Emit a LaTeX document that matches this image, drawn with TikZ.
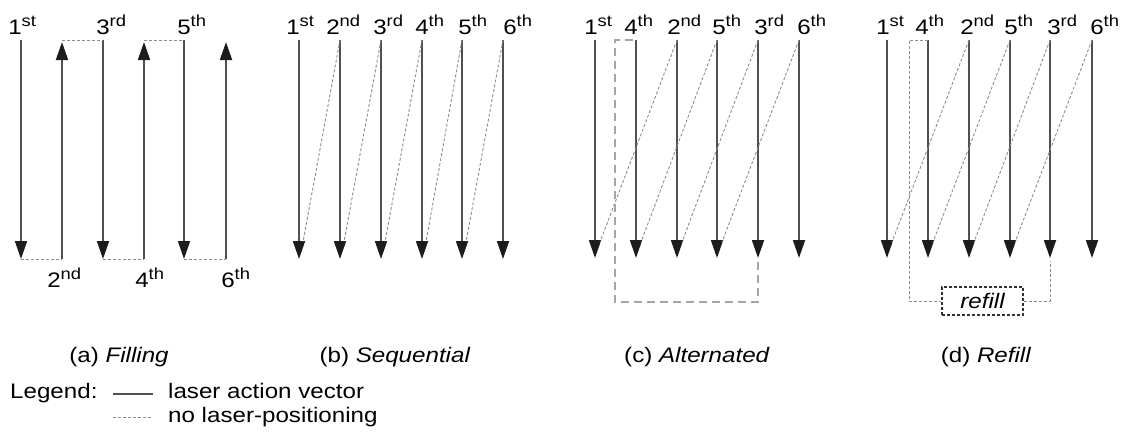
\documentclass[tikz,border=0pt]{standalone}
\usepackage{fontspec}
\setmainfont{Liberation Sans}[FakeStretch=1.15]
\usetikzlibrary{arrows.meta}
\definecolor{vecgray}{RGB}{80,80,80}
\definecolor{tipblack}{RGB}{28,28,28}
\definecolor{dashgray}{RGB}{140,140,140}
\definecolor{longgray}{RGB}{165,165,165}
\definecolor{boxgray}{RGB}{50,50,50}
\newcommand{\ordl}[2]{#1\rlap{\raisebox{8pt}{\fontsize{16}{16}\selectfont #2}}}
\tikzset{
  vec/.style={draw=vecgray, line width=1.8pt, -{Triangle[length=18pt,width=12pt,color=tipblack]}},
  nolaser/.style={draw=dashgray, line width=0.9pt, dash pattern=on 3pt off 2pt},
  longdash/.style={draw=longgray, line width=1.3pt, dash pattern=on 8pt off 5pt},
  lbl/.style={anchor=base, inner sep=0pt, font=\fontsize{21}{25}\selectfont},
  txt/.style={anchor=base west, inner sep=0pt, font=\fontsize{21}{25}\selectfont},
  captext/.style={anchor=base, inner sep=0pt, font=\fontsize{21}{25}\selectfont},
  refillbox/.style={draw=boxgray, line width=1.3pt, dash pattern=on 3pt off 2pt, minimum width=81pt, minimum height=28pt, inner sep=0pt, font=\fontsize{21}{25}\selectfont\itshape}
}
\begin{document}
\begin{tikzpicture}[x=1pt,y=-1pt]
\useasboundingbox (0,0) rectangle (1131,434);

% ---------- (a) Filling ----------
\foreach \i/\x in {1/21,2/62,3/103,4/144,5/184,6/226}{
  \coordinate (a\i t) at (\x,40);
  \coordinate (a\i b) at (\x,259);
}
\coordinate (a2tip) at (62,42);
\coordinate (a4tip) at (144,42);
\coordinate (a6tip) at (226,42);
\draw[vec] (a1t) -- (a1b);
\draw[vec] (a3t) -- (a3b);
\draw[vec] (a5t) -- (a5b);
\draw[vec] (a2b) -- (a2tip);
\draw[vec] (a4b) -- (a4tip);
\draw[vec] (a6b) -- (a6tip);
\draw[nolaser] (a1b) -- (a2b);
\draw[nolaser] (a3b) -- (a4b);
\draw[nolaser] (a5b) -- (a6b);
\draw[nolaser] (a2t) -- (a3t);
\draw[nolaser] (a4t) -- (a5t);
\node[lbl] (la1) at (15,34) {\ordl{1}{st}};
\node[lbl] (la3) at (103,34) {\ordl{3}{rd}};
\node[lbl] (la5) at (184,34) {\ordl{5}{th}};
\node[lbl] (la2) at (54,287) {\ordl{2}{nd}};
\node[lbl] (la4) at (142,287) {\ordl{4}{th}};
\node[lbl] (la6) at (228,287) {\ordl{6}{th}};

% ---------- (b) Sequential ----------
\foreach \i/\x in {1/299,2/340,3/381,4/422,5/462,6/503}{
  \coordinate (b\i t) at (\x,40);
  \coordinate (b\i b) at (\x,259);
  \coordinate (b\i d) at (\x+4,242);
  \draw[vec] (b\i t) -- (b\i b);
}
\foreach \i/\j in {1/2,2/3,3/4,4/5,5/6}{
  \draw[nolaser] (b\j t) -- (b\i d);
}
\node[lbl] (lb1) at (293,34) {\ordl{1}{st}};
\node[lbl] (lb2) at (333,34) {\ordl{2}{nd}};
\node[lbl] (lb3) at (380,34) {\ordl{3}{rd}};
\node[lbl] (lb4) at (422,34) {\ordl{4}{th}};
\node[lbl] (lb5) at (465,34) {\ordl{5}{th}};
\node[lbl] (lb6) at (510,34) {\ordl{6}{th}};

% ---------- (c) Alternated ----------
\foreach \i/\x in {1/595,2/636,3/677,4/717,5/758,6/799}{
  \coordinate (c\i t) at (\x,40);
  \coordinate (c\i b) at (\x,258);
  \coordinate (c\i d) at (\x+5,242);
  \draw[vec] (c\i t) -- (c\i b);
}
\foreach \i/\j in {1/3,2/4,3/5,4/6}{
  \draw[nolaser] (c\j t) -- (c\i d);
}
\coordinate (c5e) at (758,262);
\coordinate (cbl) at (615,302);
\coordinate (ctl) at (615,40);
\draw[longdash] (c5e) |- (cbl) -- (ctl) -- (c2t);
\node[lbl] (lc1) at (591,34) {\ordl{1}{st}};
\node[lbl] (lc2) at (631,34) {\ordl{4}{th}};
\node[lbl] (lc3) at (674,34) {\ordl{2}{nd}};
\node[lbl] (lc4) at (719,34) {\ordl{5}{th}};
\node[lbl] (lc5) at (761,34) {\ordl{3}{rd}};
\node[lbl] (lc6) at (804,34) {\ordl{6}{th}};

% ---------- (d) Refill ----------
\foreach \i/\x in {1/887,2/928,3/969,4/1010,5/1050,6/1092}{
  \coordinate (d\i t) at (\x,40);
  \coordinate (d\i b) at (\x,258);
  \coordinate (d\i d) at (\x+5,242);
  \draw[vec] (d\i t) -- (d\i b);
}
\foreach \i/\j in {1/3,2/4,3/5,4/6}{
  \draw[nolaser] (d\j t) -- (d\i d);
}
\node[refillbox] (refill) at (982.5,301) {refill};
\coordinate (dtl) at (909,40);
\coordinate (d5e) at (1050,261);
\draw[nolaser] (d2t) -- (dtl) |- (refill.west);
\draw[nolaser] (refill.east) -| (d5e);
\node[lbl] (ld1) at (883,34) {\ordl{1}{st}};
\node[lbl] (ld2) at (922,34) {\ordl{4}{th}};
\node[lbl] (ld3) at (967,34) {\ordl{2}{nd}};
\node[lbl] (ld4) at (1011,34) {\ordl{5}{th}};
\node[lbl] (ld5) at (1054,34) {\ordl{3}{rd}};
\node[lbl] (ld6) at (1097,34) {\ordl{6}{th}};

% ---------- captions ----------
\node[captext] (capa) at (119,362) {(a) \textit{Filling}};
\node[captext] (capb) at (395,362) {(b) \textit{Sequential}};
\node[captext] (capc) at (697,362) {(c) \textit{Alternated}};
\node[captext] (capd) at (986,362) {(d) \textit{Refill}};

% ---------- legend ----------
\node[txt] (leg) at (10,398) {Legend:};
\coordinate (l1a) at (113,394);
\coordinate (l1b) at (153,394);
\coordinate (l2a) at (113,417);
\coordinate (l2b) at (153,417);
\draw[draw=vecgray, line width=1.6pt] (l1a) -- (l1b);
\draw[nolaser] (l2a) -- (l2b);
\node[txt] (leg1) at (168,398) {laser action vector};
\node[txt] (leg2) at (168,422) {no laser-positioning};
\end{tikzpicture}
\end{document}
